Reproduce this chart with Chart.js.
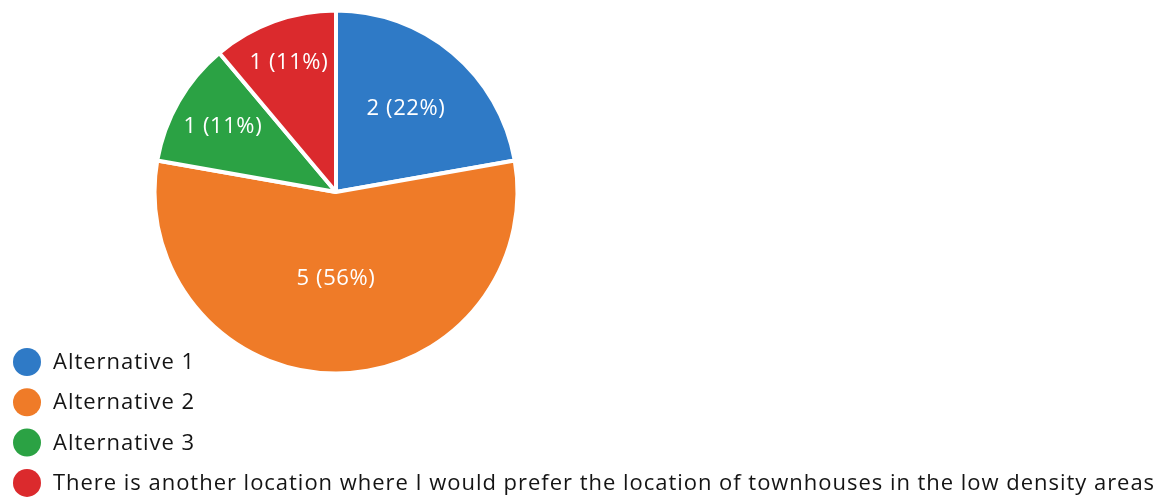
<!DOCTYPE html>
<html>
<head>
<meta charset="utf-8">
<script src="https://cdn.jsdelivr.net/npm/chart.js@4"></script>
<style>
  html, body { margin: 0; padding: 0; background: #fff; }
  #wrap { width: 1160px; height: 497px; }
</style>
</head>
<body>
<div id="wrap"><canvas id="grafico" width="1160" height="497"></canvas></div>
<script>
const categorias = [
    'Alternative 1',
    'Alternative 2',
    'Alternative 3',
    'There is another location where I would prefer the location of townhouses in the low density areas'
];
const respuestas = [2, 5, 1, 1];
const colores = ['#2f7ac6', '#ef7b28', '#2ba244', '#db2a2d'];
// how far out (fraction of radius) each slice label sits
const distEtiqueta = [0.6, 0.48, 0.72, 0.76];

const FONT = '"Open Sans", "DejaVu Sans", sans-serif';

const etiquetasPorcion = {
    id: 'etiquetasPorcion',
    afterDatasetsDraw(chart) {
        const ctx = chart.ctx;
        const data = chart.data.datasets[0].data;
        const total = data.reduce((a, b) => a + b, 0);
        chart.getDatasetMeta(0).data.forEach((arc, i) => {
            const p = arc.getProps(['x', 'y', 'startAngle', 'endAngle', 'outerRadius'], true);
            const mid = (p.startAngle + p.endAngle) / 2;
            const r = p.outerRadius * distEtiqueta[i];
            const x = p.x + Math.cos(mid) * r;
            const y = p.y + Math.sin(mid) * r;
            ctx.save();
            ctx.fillStyle = '#ffffff';
            ctx.font = '22px ' + FONT;
            ctx.letterSpacing = '0.6px';
            ctx.textAlign = 'center';
            ctx.textBaseline = 'middle';
            ctx.fillText(data[i] + ' (' + Math.round(data[i] / total * 100) + '%)', x, y);
            ctx.restore();
        });
    }
};

const leyendaLista = {
    id: 'leyendaLista',
    afterDraw(chart) {
        const ctx = chart.ctx;
        const bg = chart.data.datasets[0].backgroundColor;
        chart.data.labels.forEach((txt, i) => {
            const y = 362 + i * 40.3;
            ctx.save();
            ctx.fillStyle = bg[i];
            ctx.beginPath();
            ctx.arc(27, y, 14, 0, Math.PI * 2);
            ctx.fill();
            ctx.fillStyle = '#141414';
            ctx.font = '22px ' + FONT;
            ctx.letterSpacing = '0.97px';
            ctx.textAlign = 'left';
            ctx.textBaseline = 'alphabetic';
            ctx.fillText(txt, 53, y + 7);
            ctx.restore();
        });
    }
};

new Chart(document.getElementById('grafico').getContext('2d'), {
    type: 'pie',
    data: {
        labels: categorias,
        datasets: [{
            data: respuestas,
            backgroundColor: colores,
            borderColor: '#ffffff',
            borderWidth: 4
        }]
    },
    options: {
        responsive: false,
        animation: false,
        layout: { padding: { top: 8.5, bottom: 121.5, left: 152.5, right: 640.5 } },
        plugins: {
            legend: { display: false },
            tooltip: { enabled: false }
        }
    },
    plugins: [etiquetasPorcion, leyendaLista]
});
</script>
</body>
</html>
